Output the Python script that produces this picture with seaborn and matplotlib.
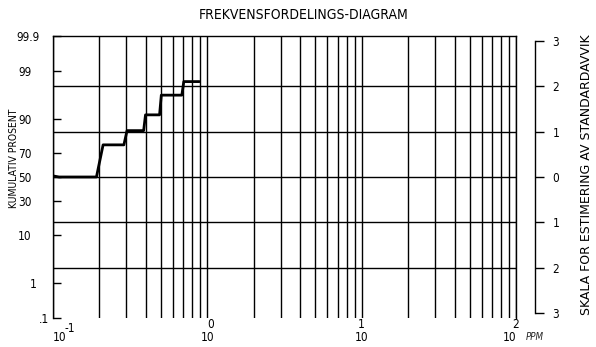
import numpy as np
import pandas as pd
import matplotlib
matplotlib.use("Agg")
import matplotlib.pyplot as plt
from matplotlib.ticker import LogLocator, FixedLocator, NullFormatter
from matplotlib.transforms import ScaledTranslation
import seaborn as sns
from statistics import NormalDist

# ---- data ----
ppm = [0.100, 0.110, 0.192, 0.212, 0.289, 0.303, 0.388, 0.399, 0.492, 0.505, 0.686, 0.706, 0.892]
cum_pct = [51.0, 50.0, 50.0, 76.0, 76.0, 84.6, 84.6, 91.4, 91.4, 96.4, 96.4, 98.2, 98.2]

left_ticks = [0.1, 1, 10, 30, 50, 70, 90, 99, 99.9]
left_labels = [".1", "1", "10", "30", "50", "70", "90", "99", "99.9"]
sigma_ticks = [-3, -2, -1, 0, 1, 2, 3]
sigma_labels = ["3", "2", "1", "0", "1", "2", "3"]
sigma_lines = [-2, -1, 0, 1, 2]
x_major = [0.1, 1, 10, 100]
x_exp = ["-1", "0", "1", "2"]

title = "FREKVENSFORDELINGS-DIAGRAM"
ylabel_left = "KUMULATIV PROSENT"
ylabel_right = "SKALA FOR ESTIMERING AV STANDARDAVVIK"
xunit = "PPM"

_nd = NormalDist()


def pct_to_sigma(p):
    p = np.clip(np.asarray(p, dtype=float), 1e-9, 100 - 1e-9)
    return np.vectorize(lambda v: _nd.inv_cdf(v / 100.0), otypes=[float])(p)


def sigma_to_pct(s):
    s = np.asarray(s, dtype=float)
    return np.vectorize(lambda v: _nd.cdf(v) * 100.0, otypes=[float])(s)


sns.set_theme(style="white")
plt.rcParams["font.family"] = ["DejaVu Sans"]
plt.rcParams["font.stretch"] = "condensed"

W, H = 596, 347
fig = plt.figure(figsize=(W / 100, H / 100), dpi=100)
x0, x1, ytop, ybot = 52.7, 516.0, 36.4, 317.6
ax = fig.add_axes([x0 / W, 1 - ybot / H, (x1 - x0) / W, (ybot - ytop) / H])

ax.set_xscale("log")
ax.set_yscale("function", functions=(pct_to_sigma, sigma_to_pct))
ax.set_xlim(x_major[0], x_major[-1])
ax.set_ylim(left_ticks[0], left_ticks[-1])

df = pd.DataFrame({"ppm": ppm, "pct": cum_pct})
sns.lineplot(data=df, x="ppm", y="pct", ax=ax, color="black", lw=2,
             estimator=None, sort=False, legend=False, zorder=5)
ax.set_xlabel("")
ax.set_ylabel("")

# vertical grid
ax.xaxis.set_major_locator(FixedLocator(x_major))
ax.xaxis.set_minor_locator(LogLocator(base=10, subs=np.arange(2, 10)))
ax.xaxis.set_minor_formatter(NullFormatter())
ax.grid(True, which="both", axis="x", color="black", lw=1.0)
ax.grid(False, axis="y")
for s in sigma_lines:
    ax.axhline(sigma_to_pct(s), color="black", lw=1.0)

ax.set_xticks(x_major)
ax.set_xticklabels(["10"] * len(x_major))
ax.tick_params(axis="x", which="both", length=0, pad=9.5, labelsize=8.5, colors="black")
lbls = ax.get_xticklabels()
lbls[0].set_ha("left")
lbls[-1].set_ha("right")

ax.set_yticks(left_ticks)
ax.set_yticklabels(left_labels)
ax.yaxis.set_minor_locator(FixedLocator([]))
ax.tick_params(axis="y", which="major", direction="in", length=6, width=1,
               left=True, right=False, pad=15, labelsize=8.5, colors="black")
ylbl = ax.get_yticklabels()
shifts = {".1": 17, "1": 5, "99.9": 8}
for t in ylbl:
    dx = shifts.get(t.get_text(), 0)
    if dx:
        t.set_transform(t.get_transform() + ScaledTranslation(dx / 100, 0, fig.dpi_scale_trans))

for side in ["left", "top", "right"]:
    ax.spines[side].set_color("black")
    ax.spines[side].set_linewidth(1.0)
ax.spines["bottom"].set_visible(False)

# exponents of x labels
secx = ax.secondary_xaxis("bottom")
secx.set_xticks(x_major)
secx.set_xticklabels(x_exp)
secx.xaxis.set_minor_locator(FixedLocator([]))
secx.tick_params(axis="x", which="both", length=0, pad=0.5, labelsize=8.5, colors="black")
secx.spines["bottom"].set_visible(False)
el = secx.get_xticklabels()
el[0].set_ha("left")
el[0].set_transform(el[0].get_transform() + ScaledTranslation(12 / 100, -4 / 100, fig.dpi_scale_trans))
el[1].set_transform(el[1].get_transform() + ScaledTranslation(3 / 100, 0, fig.dpi_scale_trans))

# right sigma axis (linear in standard deviations)
twin = ax.twinx()
twin.set_ylim(pct_to_sigma(left_ticks[0]), pct_to_sigma(left_ticks[-1]))
twin.grid(False)
twin.set_ylabel("")
pos = (535 - x0) / (x1 - x0)
for side in ["left", "top", "bottom"]:
    twin.spines[side].set_visible(False)
twin.spines["right"].set_position(("axes", pos))
twin.spines["right"].set_bounds(sigma_ticks[0], sigma_ticks[-1])
twin.spines["right"].set_color("black")
twin.spines["right"].set_linewidth(1.0)
twin.set_yticks(sigma_ticks)
twin.set_yticklabels(sigma_labels)
twin.tick_params(axis="y", which="both", direction="out", length=6.5, width=1,
                 right=True, left=False, pad=6, labelsize=8.5, colors="black")

fig.text(14 / W, 1 - 158 / H, ylabel_left, rotation=90, ha="center", va="center",
         fontsize=7.5, color="black")
fig.text(586 / W, 1 - 175 / H, ylabel_right, rotation=90, ha="center", va="center",
         fontsize=9, fontstretch="normal", color="black")
fig.text(304 / W, 1 - 15 / H, title, ha="center", va="center", fontsize=10, color="black")
fig.text(526 / W, 1 - 337 / H, xunit, fontsize=7, fontstyle="italic", va="center", ha="left")

fig.savefig("out.png", dpi=100)
